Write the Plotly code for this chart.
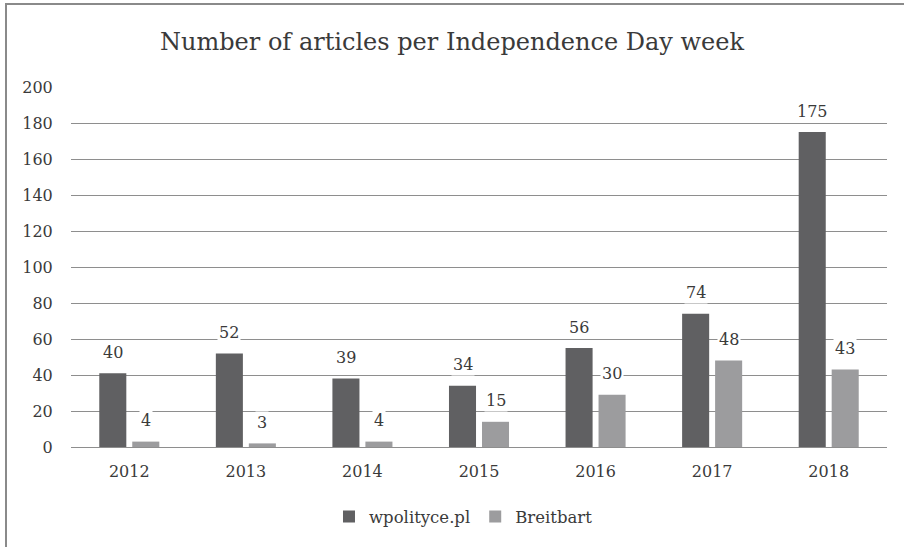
import plotly.graph_objects as go

years = ["2012", "2013", "2014", "2015", "2016", "2017", "2018"]
wpolityce = [40, 52, 39, 34, 56, 74, 175]
breitbart = [4, 3, 4, 15, 30, 48, 43]
bar_values_w = [41, 52, 38, 34, 55, 74, 175]
bar_values_b = [3, 2, 3, 14, 29, 48, 43]

FONT = "DejaVu Serif"
TXT = "#3a3a3a"
DARK = "#606062"
LIGHT = "#9c9c9e"
GRID = "#8e8e8e"

fig = go.Figure()
fig.add_trace(go.Bar(x=years, y=bar_values_w, name="wpolityce.pl", marker_color=DARK,
                     marker_line_width=0))
fig.add_trace(go.Bar(x=years, y=bar_values_b, name="Breitbart", marker_color=LIGHT,
                     marker_line_width=0))

annotations = []
for i, yr in enumerate(years):
    for vals, labels, xs in ((bar_values_w, wpolityce, -16.5), (bar_values_b, breitbart, 16.5)):
        annotations.append(dict(
            x=i, y=vals[i], xref="x", yref="y", text=str(labels[i]), showarrow=False,
            xshift=xs, yshift=21, yanchor="middle", xanchor="center",
            bgcolor="white", borderpad=1,
            font=dict(family=FONT, size=16, color=TXT)))

fig.update_layout(
    width=904, height=547,
    margin=dict(l=71, r=17, t=87, b=100),
    paper_bgcolor="white", plot_bgcolor="white",
    barmode="group", bargap=0.434, bargroupgap=0.18,
    title=dict(text="Number of articles per Independence Day week", x=0.5, xanchor="center",
               y=1 - 42 / 547, yanchor="middle", font=dict(family=FONT, size=24, color=TXT)),
    font=dict(family=FONT, size=16, color=TXT),
    showlegend=True,
    xaxis=dict(type="category", range=[-0.5, 6.5], showgrid=False, showline=False,
               ticks="outside", ticklen=10, tickcolor="white",
               tickfont=dict(family=FONT, size=16, color=TXT)),
    yaxis=dict(range=[0, 200], dtick=20, showgrid=True, gridcolor=GRID, gridwidth=1.3,
               zeroline=True, zerolinecolor=GRID, zerolinewidth=1.3, showline=False,
               ticks="outside", ticklen=14, tickcolor="white",
               tickfont=dict(family=FONT, size=16, color=TXT)),
    legend=dict(orientation="h", x=0.481, xanchor="center", y=-0.194, yanchor="middle",
                font=dict(family=FONT, size=16.5, color=TXT),
                traceorder="normal"),
    annotations=annotations,
    shapes=[dict(type="rect", xref="paper", yref="paper",
                 x0=(6 - 71) / 816, x1=(912 - 71) / 816,
                 y0=(447 - 560) / 360, y1=(447 - 4) / 360,
                 line=dict(color="#8a8a8a", width=2), fillcolor="rgba(0,0,0,0)",
                 layer="below")],
)

fig.write_html("out.html")
